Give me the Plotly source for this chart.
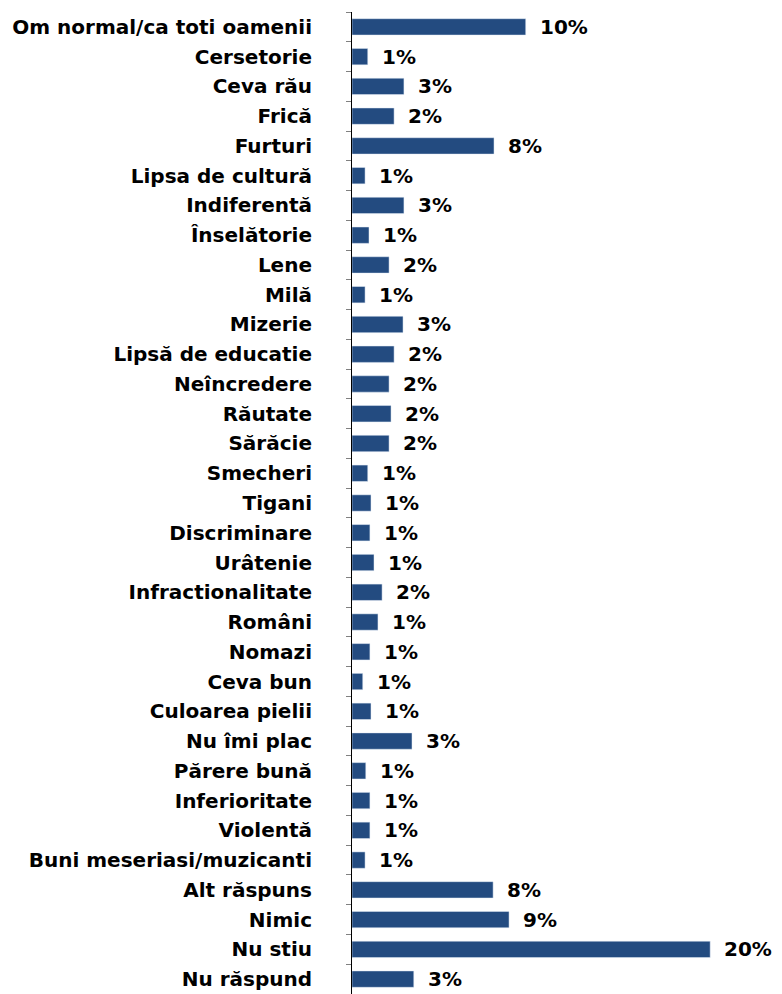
import plotly.graph_objects as go

categories = [
    "Om normal/ca toti oamenii", "Cersetorie", "Ceva rău", "Frică", "Furturi",
    "Lipsa de cultură", "Indiferentă", "Înselătorie", "Lene", "Milă", "Mizerie",
    "Lipsă de educatie", "Neîncredere", "Răutate", "Sărăcie", "Smecheri", "Tigani",
    "Discriminare", "Urâtenie", "Infractionalitate", "Români", "Nomazi", "Ceva bun",
    "Culoarea pielii", "Nu îmi plac", "Părere bună", "Inferioritate", "Violentă",
    "Buni meseriasi/muzicanti", "Alt răspuns", "Nimic", "Nu stiu", "Nu răspund",
]
values = [
    9.7, 0.88, 2.9, 2.35, 7.93, 0.73, 2.9, 0.95, 2.07, 0.73, 2.85,
    2.35, 2.07, 2.18, 2.07, 0.88, 1.06, 1.0, 1.23, 1.68, 1.45, 1.0, 0.6,
    1.06, 3.35, 0.77, 1.0, 1.0, 0.73, 7.88, 8.77, 20.0, 3.45,
]
labels = [
    "10%", "1%", "3%", "2%", "8%", "1%", "3%", "1%", "2%", "1%", "3%",
    "2%", "2%", "2%", "2%", "1%", "1%", "1%", "1%", "2%", "1%", "1%", "1%",
    "1%", "3%", "1%", "1%", "1%", "1%", "8%", "9%", "20%", "3%",
]

FONT = "DejaVu Sans"

fig = go.Figure()
fig.add_trace(go.Bar(
    x=values,
    y=categories,
    orientation="h",
    marker=dict(color="#234B80"),
    hoverinfo="skip",
))

# value labels sit a little to the right of each bar end
for cat, val, lab in zip(categories, values, labels):
    fig.add_annotation(
        x=val, y=cat, text=f"<b>{lab}</b>", showarrow=False,
        xanchor="left", xshift=12,
        font=dict(family=FONT, size=20, color="black"),
    )

# the page body adds an 8px margin, so the figure is a bit smaller than the window
fig.update_layout(
    width=774,
    height=986,
    margin=dict(l=344, r=36, t=4, b=0),
    plot_bgcolor="white",
    paper_bgcolor="white",
    showlegend=False,
    bargap=0.45,
    xaxis=dict(range=[0, 22], visible=False, fixedrange=True),
    yaxis=dict(
        autorange="reversed",
        showline=True, linecolor="black", linewidth=1,
        ticks="outside", tickson="boundaries", ticklen=5, tickcolor="#808080",
        ticklabelstandoff=35,
        tickfont=dict(family=FONT, size=20, color="black", weight="bold"),
        showgrid=False,
        fixedrange=True,
    ),
)

fig.write_html("out.html")
